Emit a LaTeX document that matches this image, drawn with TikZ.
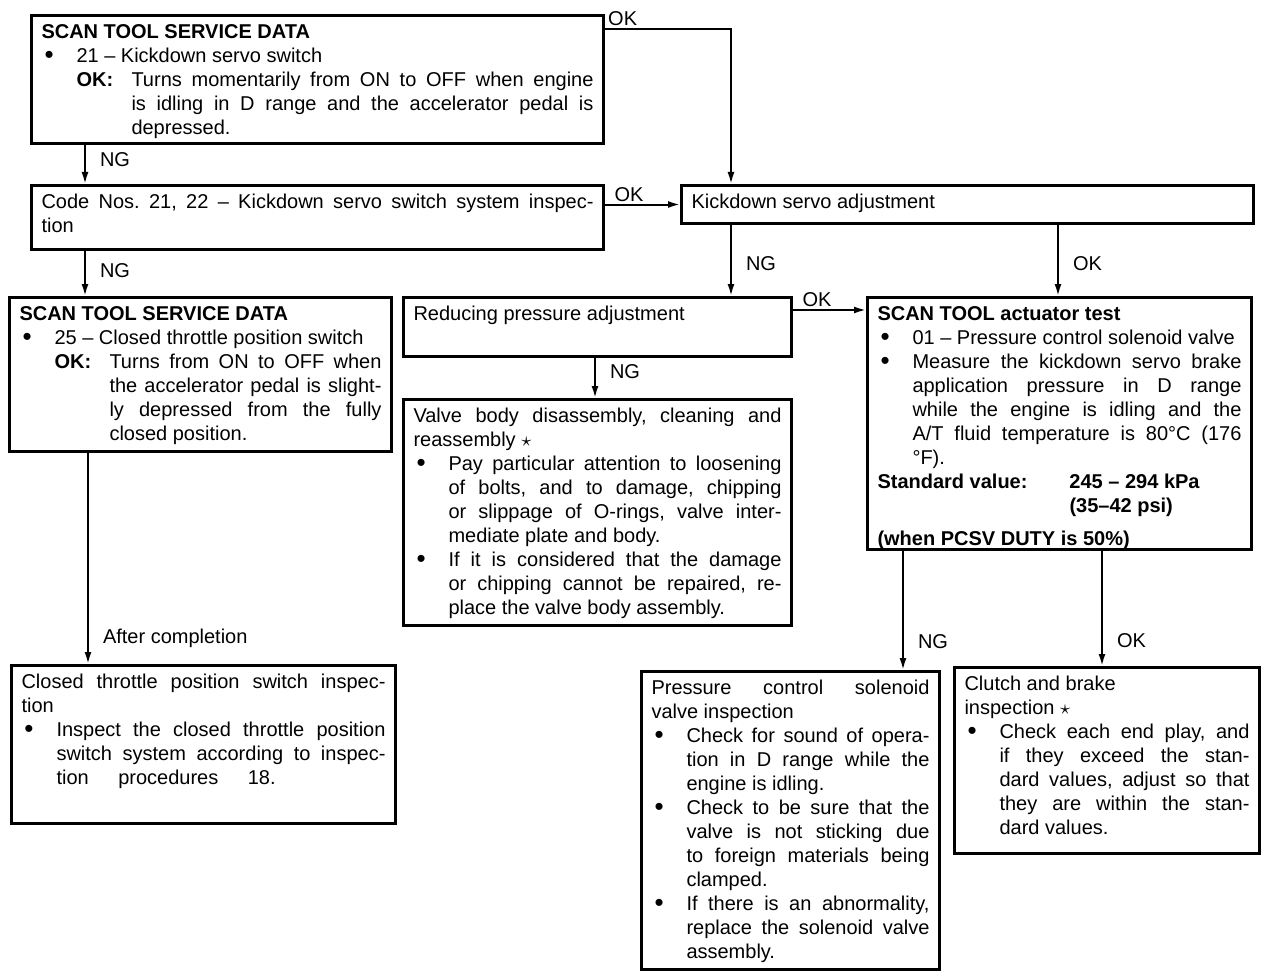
\documentclass[tikz,border=0pt]{standalone}
\usepackage{fontspec}
\setmainfont{Liberation Sans}
\usetikzlibrary{arrows.meta}

% box text: width px, height px, contents
\newcommand\setupbox{\parindent=0pt\parskip=0pt\tolerance=10000\hbadness=10000
  \hyphenpenalty=10000\exhyphenpenalty=10000\frenchspacing\fontsize{10}{12}\selectfont}
\newcommand\boxtxt[3]{\parbox[c][\dimexpr#2pt/2-6pt\relax][t]{\dimexpr#1pt/2-10pt\relax}{\setupbox\strut#3}}
\newcommand\itm{\par\hangindent=17.5pt\hangafter=1\noindent\makebox[17.5pt][l]{\hspace{1.5pt}\raisebox{-0.4pt}{\scalebox{1.3}{\textbullet}}}}
\newcommand\okl{\par\leftskip=17.5pt\hangindent=27.5pt\hangafter=1\noindent\makebox[27.5pt][l]{\textbf{OK:}}}

\tikzset{
  box/.style={draw, line width=1.5pt, rectangle, anchor=north west, inner xsep=5pt, inner ysep=3pt},
  flow/.style={->, line width=1pt},
  lbl/.style={font=\fontsize{10}{12}\selectfont, inner sep=1pt},
}

\begin{document}
\begin{tikzpicture}[x=0.5pt, y=-0.5pt, >={Latex[length=6pt,width=3.5pt]}]
        \useasboundingbox (0,0) rectangle (1280,974);
        % columns and rows of the connectors
        \coordinate (xab) at (85,0);  \coordinate (xfh) at (88,0);
        \coordinate (xc) at (731,0);  \coordinate (xe) at (1058,0);
        \coordinate (xg) at (595,0);  \coordinate (xi) at (903,0);
        \coordinate (xj) at (1102,0);
        \coordinate (yok) at (0,29);  \coordinate (yde) at (0,310);

        \node[box] (data1) at (30,14) {\boxtxt{572}{128}{\textbf{SCAN TOOL SERVICE DATA}
            \itm 21 -- Kickdown servo switch
            \okl Turns momentarily from ON to OFF when engine\linebreak is idling in D range and the accelerator pedal is\linebreak depressed.}};
        \node[box] (codes) at (30,184) {\boxtxt{572}{64}{Code Nos. 21, 22 -- Kickdown servo switch system inspec-\linebreak tion}};
        \node[box] (servo) at (680,184) {\boxtxt{572}{38}{Kickdown servo adjustment}};
        \node[box] (data2) at (8,296) {\boxtxt{382}{154}{\textbf{SCAN TOOL SERVICE DATA}
            \itm 25 -- Closed throttle position switch
            \okl Turns from ON to OFF when\linebreak the accelerator pedal is slight-\linebreak ly depressed from the fully\linebreak closed position.}};
        \node[box] (reduce) at (402,296) {\boxtxt{388}{59}{Reducing pressure adjustment}};
        \node[box] (actu) at (866,296) {\boxtxt{384}{252}{\textbf{SCAN TOOL actuator test}
            \itm 01 -- Pressure control solenoid valve
            \itm Measure the kickdown servo brake\linebreak application pressure in D range\linebreak while the engine is idling and the\linebreak A/T fluid temperature is 80°C (176\linebreak °F).
            \par\textbf{\makebox[96pt][l]{Standard value:}245 -- 294 kPa}\\
            \hspace*{96pt}\textbf{(35--42 psi)}
            \par\vspace{4.5pt}\textbf{(when PCSV DUTY is 50\%)}}};
        \node[box] (valve) at (402,398) {\boxtxt{388}{226}{Valve body disassembly, cleaning and\linebreak reassembly $\star$
            \itm Pay particular attention to loosening\linebreak of bolts, and to damage, chipping\linebreak or slippage of O-rings, valve inter-\linebreak mediate plate and body.
            \itm If it is considered that the damage\linebreak or chipping cannot be repaired, re-\linebreak place the valve body assembly.}};
        \node[box] (throttle) at (10,664) {\boxtxt{384}{158}{Closed throttle position switch inspec-\linebreak tion
            \itm Inspect the closed throttle position\linebreak switch system according to inspec-\linebreak tion\hspace{1.2em} procedures\hspace{1.2em} 18.}};
        \node[box] (pcsv) at (640,670) {\boxtxt{298}{298}{Pressure control solenoid\linebreak valve inspection
            \itm Check for sound of opera-\linebreak tion in D range while the\linebreak engine is idling.
            \itm Check to be sure that the\linebreak valve is not sticking due\linebreak to foreign materials being\linebreak clamped.
            \itm If there is an abnormality,\linebreak replace the solenoid valve\linebreak assembly.}};
        \node[box] (clutch) at (953,666) {\boxtxt{305}{186}{Clutch and brake\\ inspection $\star$
            \itm Check each end play, and\linebreak if they exceed the stan-\linebreak dard values, adjust so that\linebreak they are within the stan-\linebreak dard values.}};

        % connectors
        \draw[flow] (data1.south -| xab) -- node[lbl, right=6pt, pos=0.38] (ng1) {NG} (codes.north -| xab);
        \draw[flow] (data1.east |- yok) -| node[lbl, above, pos=0.07] (ok1) {OK} (servo.north -| xc);
        \draw[flow] (codes.east |- servo.west) -- node[lbl, above, pos=0.32] (ok2) {OK} (servo.west);
        \draw[flow] (codes.south -| xab) -- node[lbl, right=6pt, pos=0.44] (ng2) {NG} (data2.north -| xab);
        \draw[flow] (servo.south -| xc) -- node[lbl, right=6pt, pos=0.55] (ng3) {NG} (reduce.north -| xc);
        \draw[flow] (servo.south -| xe) -- node[lbl, right=6pt, pos=0.54] (ok3) {OK} (actu.north -| xe);
        \draw[flow] (reduce.east |- yde) -- node[lbl, above, pos=0.33] (ok4) {OK} (actu.west |- yde);
        \draw[flow] (reduce.south -| xg) -- node[lbl, right=6pt, pos=0.35] (ng4) {NG} (valve.north -| xg);
        \draw[flow] (data2.south -| xfh) -- node[lbl, right=6pt, pos=0.88] (done) {After completion} (throttle.north -| xfh);
        \draw[flow] (actu.south -| xi) -- node[lbl, right=6pt, pos=0.76] (ng5) {NG} (pcsv.north -| xi);
        \draw[flow] (actu.south -| xj) -- node[lbl, right=6pt, pos=0.78] (ok5) {OK} (clutch.north -| xj);
\end{tikzpicture}
\end{document}
